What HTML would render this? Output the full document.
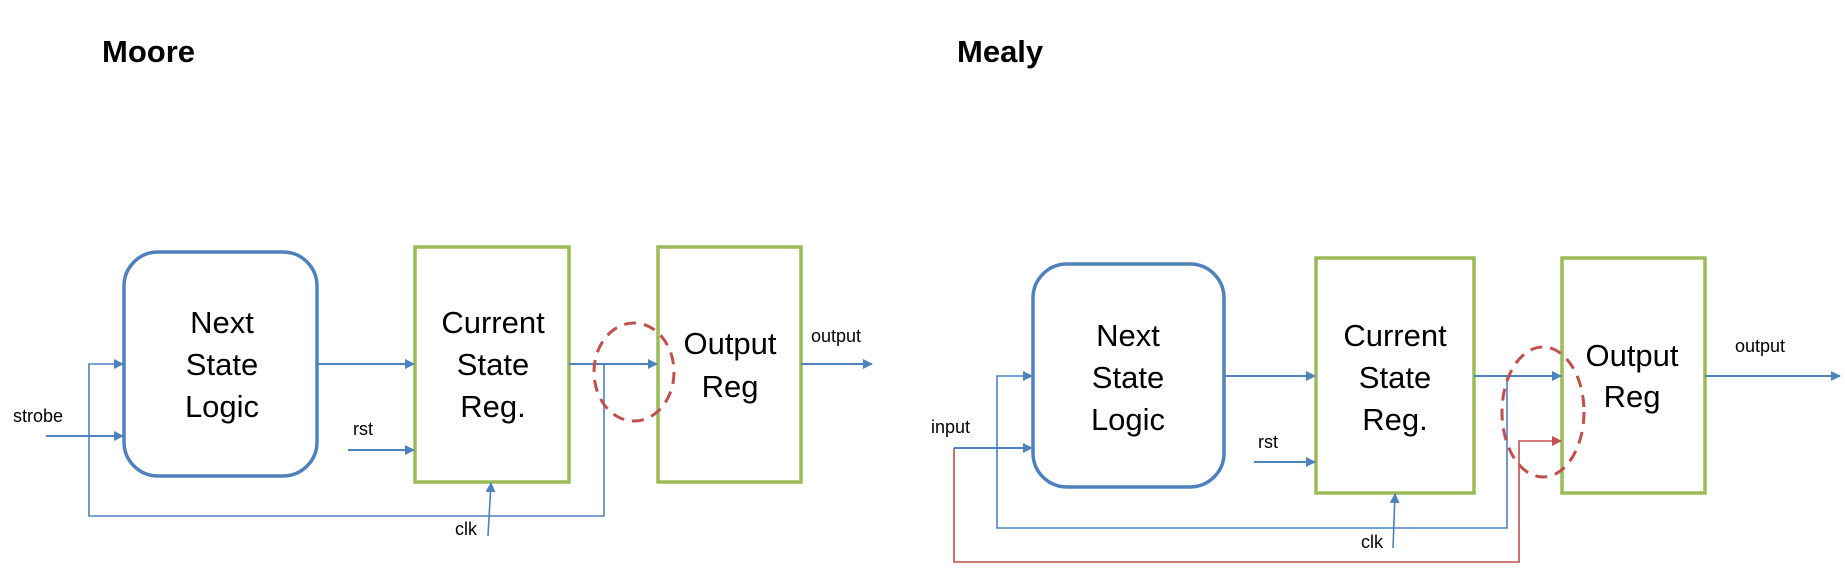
<!DOCTYPE html>
<html><head><meta charset="utf-8"><style>
body{margin:0;background:#fff;}
svg{display:block;font-family:"Liberation Sans",sans-serif;}
.box-t{font-size:31px;fill:#000;text-anchor:middle;}
.lbl{font-size:18px;fill:#000;}
</style></head><body>
<svg width="1845" height="575" viewBox="0 0 1845 575">
<defs>
<marker id="ab" markerWidth="10" markerHeight="10" refX="9" refY="5" orient="auto" markerUnits="userSpaceOnUse"><path d="M0,0 L10,5 L0,10 z" fill="#4f81bd"/></marker>
<marker id="ar" markerWidth="10" markerHeight="10" refX="9" refY="5" orient="auto" markerUnits="userSpaceOnUse"><path d="M0,0 L10,5 L0,10 z" fill="#c0504d"/></marker>
</defs>
<text x="102" y="62" font-size="31" font-weight="bold">Moore</text>
<text x="957" y="62" font-size="31" font-weight="bold">Mealy</text>

<g fill="none" stroke-width="2">
<rect x="124" y="252" width="193" height="224" rx="34" ry="34" stroke="#4f81bd" stroke-width="3.5"/>
<rect x="415" y="247" width="154" height="235" stroke="#9bbb59" stroke-width="3.5"/>
<rect x="658" y="247" width="143" height="235" stroke="#9bbb59" stroke-width="3.5"/>
<line x1="317" y1="364" x2="414" y2="364" stroke="#4f81bd" marker-end="url(#ab)"/>
<line x1="569" y1="364" x2="657" y2="364" stroke="#4f81bd" marker-end="url(#ab)"/>
<line x1="801" y1="364" x2="872" y2="364" stroke="#4f81bd" marker-end="url(#ab)"/>
<line x1="46" y1="436" x2="123" y2="436" stroke="#4f81bd" marker-end="url(#ab)"/>
<polyline points="604,364 604,516 89,516 89,364 123,364" stroke="#4f81bd" stroke-width="1.6" marker-end="url(#ab)"/>
<line x1="348" y1="450" x2="414" y2="450" stroke="#4f81bd" marker-end="url(#ab)"/>
<line x1="488" y1="536" x2="491" y2="483" stroke="#4f81bd" stroke-width="1.6" marker-end="url(#ab)"/>
<ellipse cx="634" cy="372" rx="40" ry="49" stroke="#c0504d" stroke-width="3" stroke-dasharray="12,8"/>
</g>
<text class="box-t" x="222" y="333">Next</text><text class="box-t" x="222" y="375">State</text><text class="box-t" x="222" y="417">Logic</text>
<text class="box-t" x="493" y="333">Current</text><text class="box-t" x="493" y="375">State</text><text class="box-t" x="493" y="417">Reg.</text>
<text class="box-t" x="730" y="354">Output</text><text class="box-t" x="730" y="397">Reg</text>
<text class="lbl" x="13" y="422">strobe</text>
<text class="lbl" x="353" y="435">rst</text>
<text class="lbl" x="455" y="535">clk</text>
<text class="lbl" x="811" y="342">output</text>

<g fill="none" stroke-width="2">
<rect x="1033" y="264" width="191" height="223" rx="34" ry="34" stroke="#4f81bd" stroke-width="3.5"/>
<rect x="1316" y="258" width="158" height="235" stroke="#9bbb59" stroke-width="3.5"/>
<rect x="1562" y="258" width="143" height="235" stroke="#9bbb59" stroke-width="3.5"/>
<line x1="1224" y1="376" x2="1315" y2="376" stroke="#4f81bd" marker-end="url(#ab)"/>
<line x1="1474" y1="376" x2="1561" y2="376" stroke="#4f81bd" marker-end="url(#ab)"/>
<line x1="1705" y1="376" x2="1840" y2="376" stroke="#4f81bd" marker-end="url(#ab)"/>
<line x1="954" y1="448" x2="1032" y2="448" stroke="#4f81bd" marker-end="url(#ab)"/>
<polyline points="1507,376 1507,528 997,528 997,376 1032,376" stroke="#4f81bd" stroke-width="1.6" marker-end="url(#ab)"/>
<polyline points="954,448 954,562 1519,562 1519,441 1561,441" stroke="#c0504d" stroke-width="1.6" marker-end="url(#ar)"/>
<line x1="1254" y1="462" x2="1315" y2="462" stroke="#4f81bd" marker-end="url(#ab)"/>
<line x1="1393" y1="548" x2="1395" y2="494" stroke="#4f81bd" stroke-width="1.6" marker-end="url(#ab)"/>
<ellipse cx="1543" cy="412" rx="41" ry="65" stroke="#c0504d" stroke-width="3" stroke-dasharray="12,8"/>
</g>
<text class="box-t" x="1128" y="346">Next</text><text class="box-t" x="1128" y="388">State</text><text class="box-t" x="1128" y="430">Logic</text>
<text class="box-t" x="1395" y="346">Current</text><text class="box-t" x="1395" y="388">State</text><text class="box-t" x="1395" y="430">Reg.</text>
<text class="box-t" x="1632" y="366">Output</text><text class="box-t" x="1632" y="407">Reg</text>
<text class="lbl" x="931" y="433">input</text>
<text class="lbl" x="1258" y="448">rst</text>
<text class="lbl" x="1361" y="548">clk</text>
<text class="lbl" x="1735" y="352">output</text>
</svg>
</body></html>
